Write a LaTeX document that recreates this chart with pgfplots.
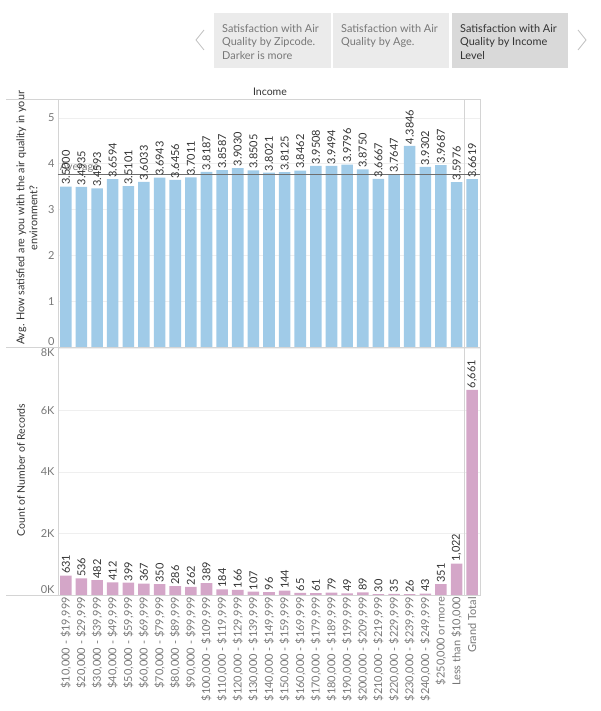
\documentclass[border=0pt]{standalone}
\usepackage{fontspec}
\setmainfont{Lato}
\usepackage{pgfplots}
\pgfplotsset{compat=1.18}
\definecolor{barblue}{HTML}{A0CBE8}
\definecolor{barpurple}{HTML}{D4A6C8}
\definecolor{gridc}{HTML}{EFEFEF}
\definecolor{borderc}{HTML}{D4D4D4}
\definecolor{tickc}{HTML}{777777}
\definecolor{labc}{HTML}{333333}
\definecolor{tabc}{HTML}{EBEBEB}
\definecolor{tabsel}{HTML}{D9D9D9}
\definecolor{avgc}{HTML}{6E6E6E}
\newcommand\tf{\fontsize{11}{13}\selectfont}
\newcommand\tabf{\fontsize{10.9}{13.5}\selectfont}
\begin{document}
\begin{tikzpicture}[x=1pt,y=1pt]
\useasboundingbox (0pt,0pt) rectangle (600pt,711pt);
% tabs
\fill[tabc] (214pt,698pt) rectangle (331pt,643pt);
\fill[tabc] (333pt,698pt) rectangle (449pt,643pt);
\fill[tabsel] (452pt,698pt) rectangle (568pt,643pt);
\node[anchor=north west, inner sep=0, align=left, font=\tabf, text=tickc] at (222pt,687pt) {Satisfaction with Air\\Quality by Zipcode.\\Darker is more};
\node[anchor=north west, inner sep=0, align=left, font=\tabf, text=tickc] at (341pt,687pt) {Satisfaction with Air\\Quality by Age.};
\node[anchor=north west, inner sep=0, align=left, font=\tabf, text=labc] at (460pt,687pt) {Satisfaction with Air\\Quality by Income\\Level};
\draw[line width=0.8pt, color=black!25] (204pt,681pt) -- (196pt,671pt) -- (204pt,661pt);
\draw[line width=0.8pt, color=black!25] (578pt,681pt) -- (586pt,671pt) -- (578pt,661pt);
\node[font=\fontsize{10.5}{12}\selectfont, text=labc] at (270pt,619pt) {Income};
% axis titles
\node[rotate=90, align=center, font=\fontsize{10.8}{13}\selectfont, text=labc] at (27pt,493pt) {Avg. How satisfied are you with the air quality in your\\environment?};
\node[rotate=90, font=\fontsize{10.5}{12}\selectfont, text=labc] at (21pt,241pt) {Count of Number of Records};
% row dividers
\draw[borderc] (6pt,612pt) -- (480pt,612pt);
\draw[borderc] (6pt,364pt) -- (480pt,364pt);
\draw[borderc] (6pt,116pt) -- (480pt,116pt);
% top panel
\begin{axis}[at={(58pt,364pt)}, anchor=south west, width=422pt, height=248pt, scale only axis,
  xmin=-0.5, xmax=26.5, ymin=0, ymax=5.41,
  axis line style={draw=borderc},
  xtick=\empty, ytick={0,1,2,3,4,5},
  yticklabels={\raisebox{1pt}[0pt][0pt]{0},1,2,3,4,5},
  major tick length=0pt,
  ymajorgrids, grid style={draw=gridc},
  yticklabel style={text=tickc, font=\tf},
  clip=false]
\draw[borderc] (axis cs:25.5,0) -- (axis cs:25.5,5.41);
\addplot[ybar, fill=barblue, draw=none, bar width=0.74,
  nodes near coords, point meta=explicit symbolic,
  every node near coord/.style={rotate=90, anchor=west, font=\tf, text=labc, inner sep=1.5pt}]
coordinates {
(0,3.5000)[3.5000] (1,3.4935)[3.4935] (2,3.4593)[3.4593] (3,3.6594)[3.6594]
(4,3.5101)[3.5101] (5,3.6033)[3.6033] (6,3.6943)[3.6943] (7,3.6456)[3.6456]
(8,3.7011)[3.7011] (9,3.8187)[3.8187] (10,3.8587)[3.8587] (11,3.9030)[3.9030]
(12,3.8505)[3.8505] (13,3.8021)[3.8021] (14,3.8125)[3.8125] (15,3.8462)[3.8462]
(16,3.9508)[3.9508] (17,3.9494)[3.9494] (18,3.9796)[3.9796] (19,3.8750)[3.8750]
(20,3.6667)[3.6667] (21,3.7647)[3.7647] (22,4.3846)[4.3846] (23,3.9302)[3.9302]
(24,3.9687)[3.9687] (25,3.5976)[3.5976] (26,3.6619)[3.6619]
};
\addplot[color=avgc, line width=1pt, mark=none] coordinates {(-0.5,3.7736) (26.5,3.7736)};
\node[anchor=south west, font=\tf, text=black!50, inner sep=1pt] at (axis cs:-0.45,3.7736) {Average};
\end{axis}
% bottom panel
\begin{axis}[at={(58pt,116pt)}, anchor=south west, width=422pt, height=248pt, scale only axis,
  xmin=-0.5, xmax=26.5, ymin=0, ymax=8050,
  axis line style={draw=borderc},
  xtick={0,...,26},
  xticklabels={{\$10,000 - \$19,999},{\$20,000 - \$29,999},{\$30,000 - \$39,999},{\$40,000 - \$49,999},{\$50,000 - \$59,999},{\$60,000 - \$69,999},{\$70,000 - \$79,999},{\$80,000 - \$89,999},{\$90,000 - \$99,999},{\$100,000 - \$109,999},{\$110,000 - \$119,999},{\$120,000 - \$129,999},{\$130,000 - \$139,999},{\$140,000 - \$149,999},{\$150,000 - \$159,999},{\$160,000 - \$169,999},{\$170,000 - \$179,999},{\$180,000 - \$189,999},{\$190,000 - \$199,999},{\$200,000 - \$209,999},{\$210,000 - \$219,999},{\$220,000 - \$229,999},{\$230,000 - \$239,999},{\$240,000 - \$249,999},{\$250,000 or more},{Less than \$10,000},{Grand Total}},
  xticklabel style={rotate=90, anchor=east, text=tickc, font=\tf, inner sep=2pt},
  ytick={0,2000,4000,6000,8000},
  yticklabels={\raisebox{1pt}[0pt][0pt]{0K},2K,4K,6K,\raisebox{-7.5pt}[0pt][0pt]{8K}},
  major tick length=0pt,
  ymajorgrids, grid style={draw=gridc},
  yticklabel style={text=tickc, font=\tf},
  clip=false]
\draw[borderc] (axis cs:25.5,0) -- (axis cs:25.5,8050);
\addplot[ybar, fill=barpurple, draw=none, bar width=0.74,
  nodes near coords, point meta=explicit symbolic,
  every node near coord/.style={rotate=90, anchor=west, font=\tf, text=labc, inner sep=1.5pt}]
coordinates {
(0,631)[631] (1,536)[536] (2,482)[482] (3,412)[412] (4,399)[399] (5,367)[367]
(6,350)[350] (7,286)[286] (8,262)[262] (9,389)[389] (10,184)[184] (11,166)[166]
(12,107)[107] (13,96)[96] (14,144)[144] (15,65)[65] (16,61)[61] (17,79)[79]
(18,49)[49] (19,89)[89] (20,30)[30] (21,35)[35] (22,26)[26] (23,43)[43]
(24,351)[351] (25,1022)[{1{,}022}] (26,6661)[{6{,}661}]
};
\end{axis}
\end{tikzpicture}
\end{document}
